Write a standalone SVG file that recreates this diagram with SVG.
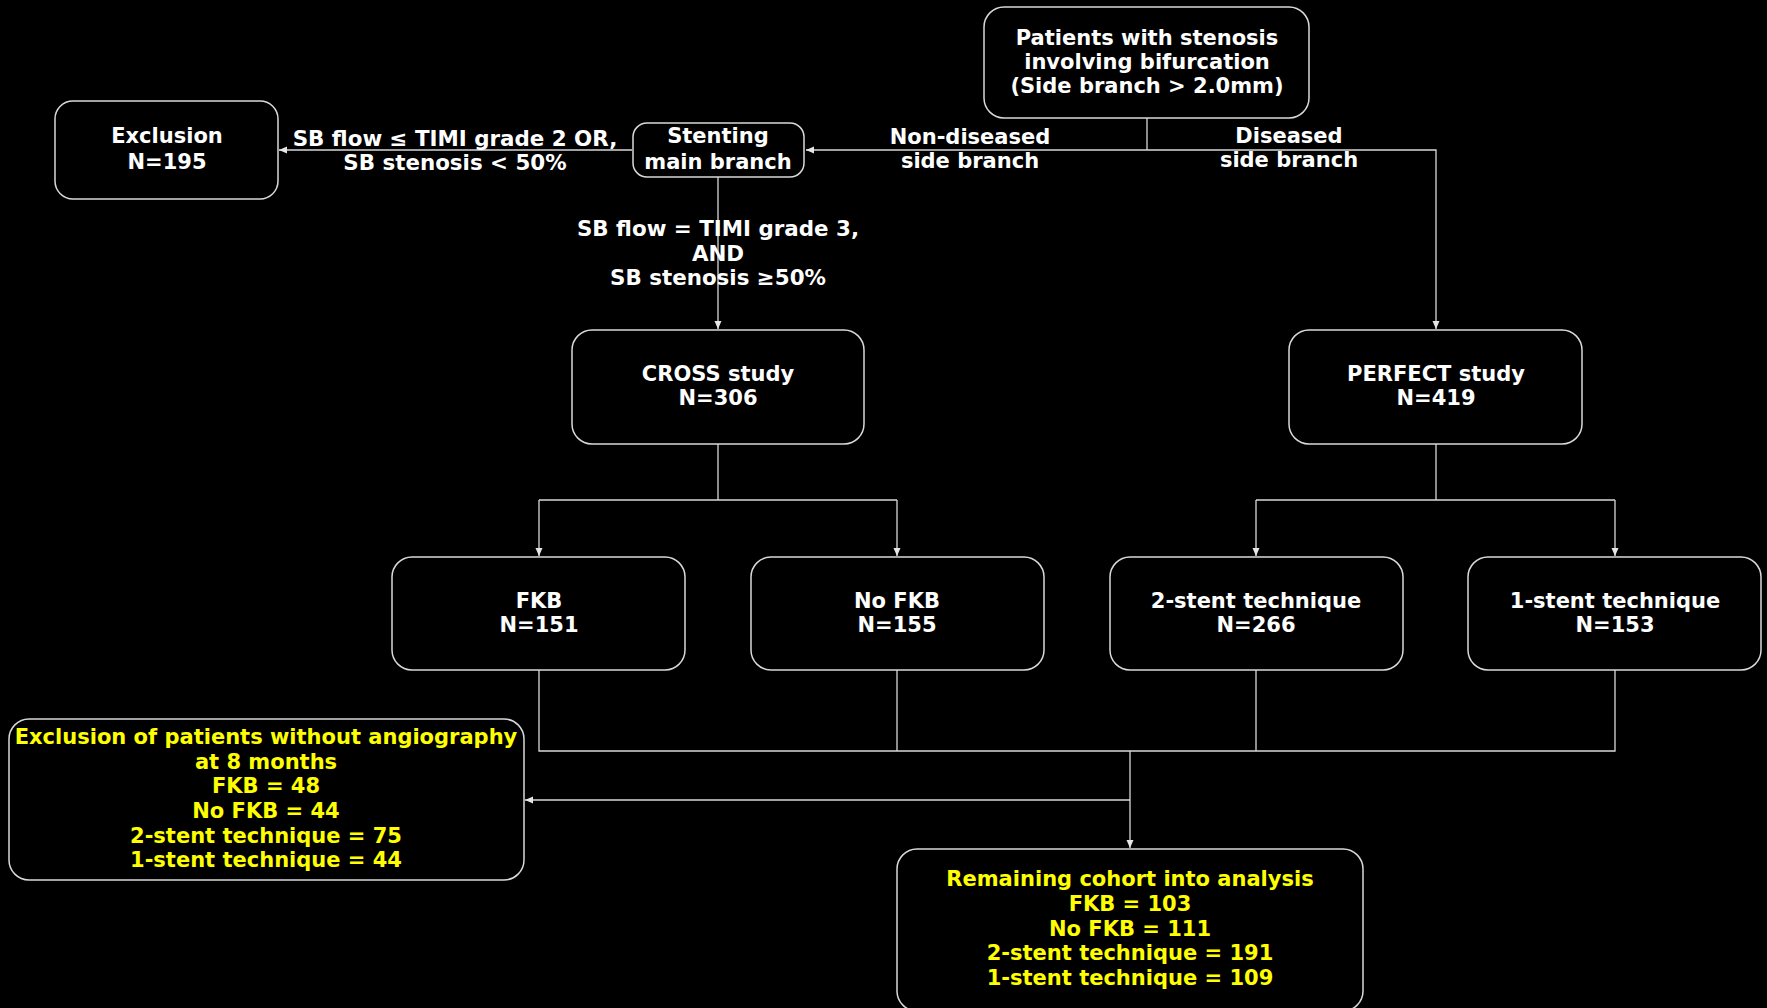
<svg xmlns="http://www.w3.org/2000/svg" width="1767" height="1008" viewBox="0 0 1767 1008">
<defs>
<style>
.box{fill:#000;stroke:#d9d9d9;stroke-width:1.5}
.t{font-family:"DejaVu Sans","Liberation Sans",sans-serif;font-weight:bold;font-size:21px;text-anchor:middle;fill:#fff}
.lb{font-size:21.4px}
.y{fill:#ffff00}
.ln{fill:none;stroke:#d9d9d9;stroke-width:1.3}
</style>
<marker id="ah" markerUnits="userSpaceOnUse" markerWidth="9" markerHeight="8" refX="8" refY="4" orient="auto">
<path d="M0,0.5 L8,4 L0,7.5 Z" fill="#e6e6e6"/>
</marker>
</defs>
<rect width="1767" height="1008" fill="#000"/>

<g id="connectors">
<path class="ln" d="M1147,118 V150"/>
<path class="ln" d="M1147,150 H806" marker-end="url(#ah)"/>
<path class="ln" d="M1147,150 H1436 V329" marker-end="url(#ah)"/>
<path class="ln" d="M632,150 H279" marker-end="url(#ah)"/>
<path class="ln" d="M718,177 V329" marker-end="url(#ah)"/>
<path class="ln" d="M718,444 V500"/>
<path class="ln" d="M539,500 H897"/>
<path class="ln" d="M539,500 V556" marker-end="url(#ah)"/>
<path class="ln" d="M897,500 V556" marker-end="url(#ah)"/>
<path class="ln" d="M1436,444 V500"/>
<path class="ln" d="M1256,500 H1615"/>
<path class="ln" d="M1256,500 V556" marker-end="url(#ah)"/>
<path class="ln" d="M1615,500 V556" marker-end="url(#ah)"/>
<path class="ln" d="M539,670 V751 H1615 V670"/>
<path class="ln" d="M897,670 V751"/>
<path class="ln" d="M1256,670 V751"/>
<path class="ln" d="M1130,751 V848" marker-end="url(#ah)"/>
<path class="ln" d="M1130,800 H525" marker-end="url(#ah)"/>
<text class="t" x="970" y="144">Non-diseased</text>
<text class="t" x="970" y="168">side branch</text>
<text class="t" x="1289" y="143">Diseased</text>
<text class="t" x="1289" y="167">side branch</text>
<text class="t lb" x="455" y="146">SB flow ≤ TIMI grade 2 OR,</text>
<text class="t lb" x="455" y="170">SB stenosis &lt; 50%</text>
<text class="t lb" x="718" y="236">SB flow = TIMI grade 3,</text>
<text class="t lb" x="718" y="261">AND</text>
<text class="t lb" x="718" y="285">SB stenosis ≥50%</text>
</g>

<g id="patients">
<rect class="box" x="984" y="7" width="325" height="111" rx="20"/>
<text class="t" x="1147" y="45">Patients with stenosis</text>
<text class="t" x="1147" y="69">involving bifurcation</text>
<text class="t" x="1147" y="93">(Side branch &gt; 2.0mm)</text>
</g>

<g id="exclusion">
<rect class="box" x="55" y="101" width="223" height="98" rx="18"/>
<text class="t" x="167" y="143">Exclusion</text>
<text class="t" x="167" y="169">N=195</text>
</g>

<g id="stenting">
<rect class="box" x="633" y="123" width="171" height="54" rx="14"/>
<text class="t" x="718" y="143">Stenting</text>
<text class="t" x="718" y="169">main branch</text>
</g>

<g id="cross">
<rect class="box" x="572" y="330" width="292" height="114" rx="20"/>
<text class="t" x="718" y="381">CROSS study</text>
<text class="t" x="718" y="405">N=306</text>
</g>

<g id="perfect">
<rect class="box" x="1289" y="330" width="293" height="114" rx="20"/>
<text class="t" x="1436" y="381">PERFECT study</text>
<text class="t" x="1436" y="405">N=419</text>
</g>

<g id="fkb">
<rect class="box" x="392" y="557" width="293" height="113" rx="20"/>
<text class="t" x="539" y="608">FKB</text>
<text class="t" x="539" y="632">N=151</text>
</g>

<g id="nofkb">
<rect class="box" x="751" y="557" width="293" height="113" rx="20"/>
<text class="t" x="897" y="608">No FKB</text>
<text class="t" x="897" y="632">N=155</text>
</g>

<g id="twostent">
<rect class="box" x="1110" y="557" width="293" height="113" rx="20"/>
<text class="t" x="1256" y="608">2-stent technique</text>
<text class="t" x="1256" y="632">N=266</text>
</g>

<g id="onestent">
<rect class="box" x="1468" y="557" width="293" height="113" rx="20"/>
<text class="t" x="1615" y="608">1-stent technique</text>
<text class="t" x="1615" y="632">N=153</text>
</g>

<g id="exclusion-angio">
<rect class="box" x="9" y="719" width="515" height="161" rx="20"/>
<text class="t y" x="266" y="744">Exclusion of patients without angiography</text>
<text class="t y" x="266" y="769">at 8 months</text>
<text class="t y" x="266" y="793">FKB = 48</text>
<text class="t y" x="266" y="818">No FKB = 44</text>
<text class="t y" x="266" y="843">2-stent technique = 75</text>
<text class="t y" x="266" y="867">1-stent technique = 44</text>
</g>

<g id="remaining">
<rect class="box" x="897" y="849" width="466" height="162" rx="20"/>
<text class="t y" x="1130" y="886">Remaining cohort into analysis</text>
<text class="t y" x="1130" y="911">FKB = 103</text>
<text class="t y" x="1130" y="936">No FKB = 111</text>
<text class="t y" x="1130" y="960">2-stent technique = 191</text>
<text class="t y" x="1130" y="985">1-stent technique = 109</text>
</g>
</svg>
